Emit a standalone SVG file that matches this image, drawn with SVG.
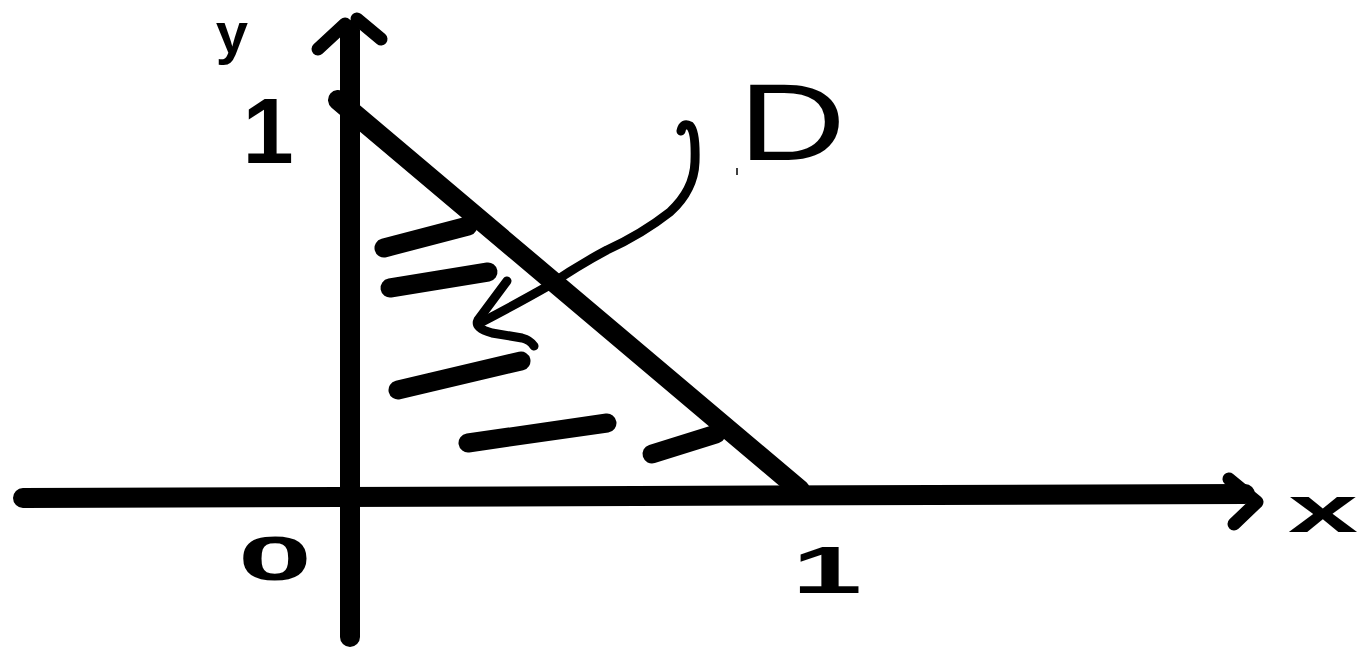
<svg xmlns="http://www.w3.org/2000/svg" width="1361" height="649" viewBox="0 0 1361 649">
<style>
.thick{fill:none;stroke:#000;stroke-width:20;stroke-linecap:round;stroke-linejoin:round}
.hatch{fill:none;stroke:#000;stroke-width:19;stroke-linecap:round}
.head{fill:none;stroke:#000;stroke-width:13;stroke-linecap:round;stroke-linejoin:round}
.thin{fill:none;stroke:#000;stroke-width:9;stroke-linecap:round;stroke-linejoin:round}
.lbl{font-family:"Liberation Sans",Arial,sans-serif;font-weight:bold;fill:#000}
</style>
<rect width="1361" height="649" fill="#fff"/>
<g id="axes">
  <g id="x-axis">
    <line class="thick" x1="23" y1="498" x2="1245" y2="494"/>
    <polyline class="head" points="1229,479 1257,502 1234,524"/>
  </g>
  <g id="y-axis">
    <line class="thick" x1="350" y1="30" x2="350" y2="637"/>
    <line class="head" x1="318" y1="49" x2="345" y2="24"/>
    <line class="head" x1="357" y1="19" x2="381" y2="39"/>
  </g>
</g>
<g id="region-D">
  <line class="thick" x1="338" y1="100" x2="800" y2="490"/>
  <line class="hatch" x1="384" y1="248" x2="468" y2="226"/>
  <line class="hatch" x1="390" y1="288" x2="488" y2="272"/>
  <line class="hatch" x1="398" y1="390" x2="521" y2="361"/>
  <line class="hatch" x1="468" y1="443" x2="607" y2="423"/>
  <line class="hatch" x1="652" y1="454" x2="716" y2="434"/>
</g>
<g id="connectors">
  <path class="thin" d="M681,131 Q683,122 690,126 Q696,132 695,162 Q694,190 670,212 Q642,234 607,250 Q577,266 548,286 Q520,302 480,323"/>
  <path class="thin" d="M507,281 L478,320 Q474,328 492,333 L522,338 Q530,340 534,346"/>
  <line x1="737" y1="168" x2="737" y2="175" stroke="#000" stroke-width="1.5"/>
</g>
<g id="labels">
  <text class="lbl" x="232" y="53" font-size="58" text-anchor="middle">y</text>
  <text class="lbl" x="268" y="163" font-size="92" text-anchor="middle">1</text>
  <text class="lbl" x="738" y="160" font-size="109" textLength="108" lengthAdjust="spacingAndGlyphs" style="font-weight:normal">D</text>
  <text class="lbl" x="238" y="580" font-size="63" textLength="74" lengthAdjust="spacingAndGlyphs">0</text>
  <text class="lbl" x="792" y="593" font-size="67" textLength="70" lengthAdjust="spacingAndGlyphs">1</text>
  <text class="lbl" x="1288" y="532" font-size="67" textLength="70" lengthAdjust="spacingAndGlyphs">x</text>
</g>
</svg>
